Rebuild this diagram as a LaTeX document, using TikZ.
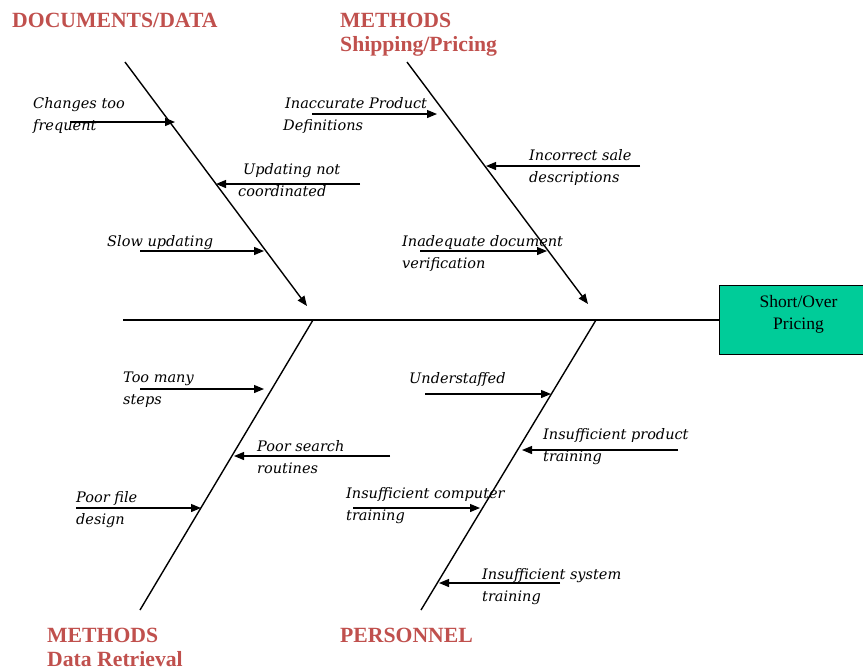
\documentclass[tikz,border=0pt]{standalone}
\usepackage{fontspec}
\setmainfont{Liberation Serif}
\newfontfamily\lblfont{DejaVu Serif}
\usetikzlibrary{arrows.meta}
\definecolor{headred}{RGB}{192,80,77}
\definecolor{boxgreen}{RGB}{0,204,153}
\tikzset{
  bone/.style={line width=1.4pt, black},
  spineline/.style={line width=2.4pt, black},
  tip/.style={-{Triangle[length=10pt,width=8pt]}},
  cause/.style={line width=1.2pt, black, -{Triangle[length=10pt,width=8pt]}},
  lbl/.style={anchor=north west, inner sep=0pt, align=left, font=\lblfont\itshape\fontsize{14.5}{22}\selectfont},
  head/.style={anchor=north west, inner sep=0pt, align=left, text=headred, font=\bfseries\fontsize{21.7}{23.5}\selectfont},
}
\begin{document}
\begin{tikzpicture}[x=1pt,y=-1pt]
\useasboundingbox (0,0) rectangle (863,670);
% effect box
\node[draw=black, line width=1pt, fill=boxgreen, minimum width=158pt, minimum height=69pt, anchor=north west, inner sep=0pt, align=center, text depth=16pt, font=\fontsize{17.5}{22}\selectfont] (effect) at (719,285) {Short/Over\\Pricing};
% spine
\coordinate (sp0) at (123,320);
\draw[spineline] (sp0) -- (effect.west);
% bones
\coordinate (b1s) at (125,62);  \coordinate (b1e) at (307,306);
\coordinate (b2s) at (407,62);  \coordinate (b2e) at (588,304);
\coordinate (b3s) at (140,610); \coordinate (b3e) at (313,320);
\coordinate (b4s) at (421,610); \coordinate (b4e) at (596,320);
\draw[bone, tip] (b1s) -- (b1e);
\draw[bone, tip] (b2s) -- (b2e);
\draw[bone] (b3s) -- (b3e);
\draw[bone] (b4s) -- (b4e);
% headings
\node[head] (h1) at (12,13) {DOCUMENTS/DATA};
\node[head] (h2) at (340,13) {METHODS\\Shipping/Pricing};
\node[head] (h3) at (47,628) {METHODS\\Data Retrieval};
\node[head] (h4) at (340,628) {PERSONNEL};
% cause labels
\node[lbl] (c1) at (33,97) {Changes too\\frequent};
\node[lbl] (c2) at (243,163) {Updating not\\\hspace*{-5pt}coordinated};
\node[lbl] (c3) at (107,235) {Slow updating};
\node[lbl] (c4) at (285,97) {Inaccurate Product\\\hspace*{-2pt}Definitions};
\node[lbl] (c5) at (529,149) {Incorrect sale\\descriptions};
\node[lbl] (c6) at (402,235) {Inadequate document\\verification};
\node[lbl] (c7) at (123,372) {Too many\\steps};
\node[lbl] (c8) at (257,440) {Poor search\\routines};
\node[lbl] (c9) at (76,491) {Poor file\\design};
\node[lbl] (c10) at (409,372) {Understaffed};
\node[lbl] (c11) at (543,428) {Insufficient product\\training};
\node[lbl] (c12) at (346,487) {Insufficient computer\\training};
\node[lbl] (c13) at (482,568) {Insufficient system\\training};
% cause arrows
\coordinate (a1s) at (70,122);  \coordinate (a1e) at (175,122);
\coordinate (a2s) at (360,184); \coordinate (a2e) at (216,184);
\coordinate (a3s) at (140,251); \coordinate (a3e) at (264,251);
\coordinate (a4s) at (312,114); \coordinate (a4e) at (437,114);
\coordinate (a5s) at (640,166); \coordinate (a5e) at (486,166);
\coordinate (a6s) at (420,251); \coordinate (a6e) at (547,251);
\coordinate (a7s) at (140,389); \coordinate (a7e) at (264,389);
\coordinate (a8s) at (390,456); \coordinate (a8e) at (234,456);
\coordinate (a9s) at (76,508);  \coordinate (a9e) at (201,508);
\coordinate (a10s) at (425,394); \coordinate (a10e) at (551,394);
\coordinate (a11s) at (678,450); \coordinate (a11e) at (522,450);
\coordinate (a12s) at (353,508); \coordinate (a12e) at (480,508);
\coordinate (a13s) at (560,583); \coordinate (a13e) at (439,583);
\foreach \i in {1,...,13} { \draw[cause] (a\i s) -- (a\i e); }
\end{tikzpicture}
\end{document}
